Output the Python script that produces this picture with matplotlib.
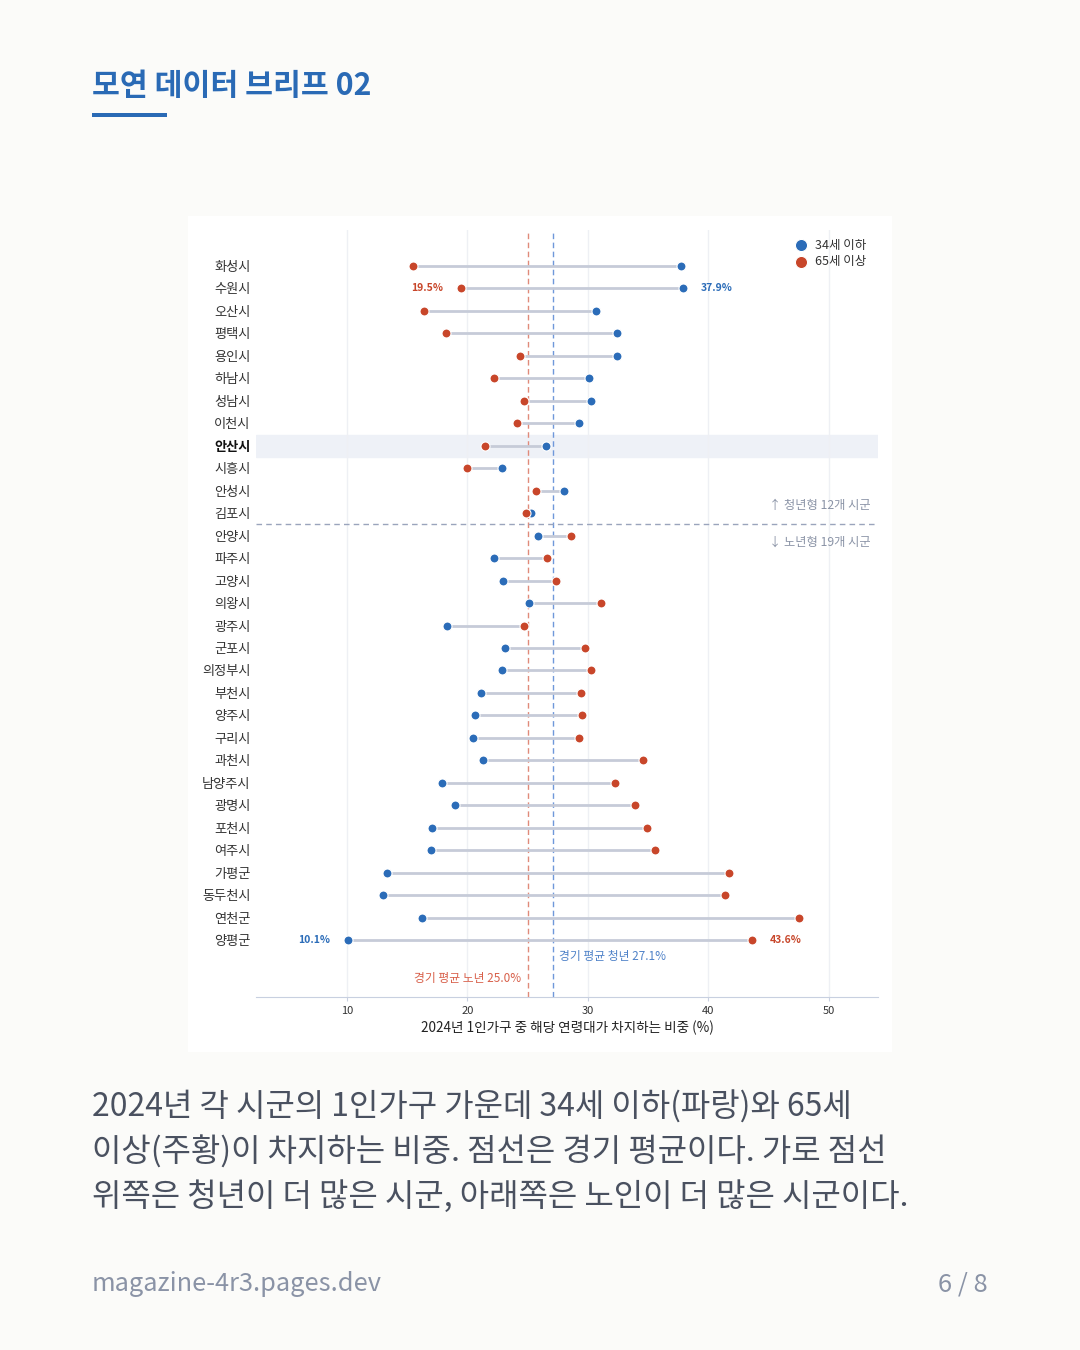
import matplotlib
import numpy as np
from matplotlib import pyplot as plt
from matplotlib.patches import Rectangle

matplotlib.use('Agg')

plt.rcParams['font.family'] = ['Noto Sans CJK KR', 'DejaVu Sans']

# data
regions = ['화성시', '수원시', '오산시', '평택시', '용인시', '하남시', '성남시', '이천시',
           '안산시', '시흥시', '안성시', '김포시', '안양시', '파주시', '고양시', '의왕시',
           '광주시', '군포시', '의정부시', '부천시', '양주시', '구리시', '과천시', '남양주시',
           '광명시', '포천시', '여주시', '가평군', '동두천시', '연천군', '양평군']
young = [37.7, 37.9, 30.7, 32.4, 32.4, 30.1, 30.3, 29.3,
         26.5, 22.9, 28.0, 25.3, 25.9, 22.2, 23.0, 25.1,
         18.3, 23.1, 22.9, 21.1, 20.6, 20.5, 21.3, 17.9,
         19.0, 17.1, 17.0, 13.3, 13.0, 16.2, 10.1]
old = [15.5, 19.5, 16.4, 18.2, 24.4, 22.2, 24.7, 24.1,
       21.5, 20.0, 25.7, 24.9, 28.6, 26.6, 27.4, 31.1,
       24.7, 29.8, 30.3, 29.4, 29.5, 29.3, 34.6, 32.3,
       33.9, 34.9, 35.6, 41.7, 41.4, 47.5, 43.6]
mean_young = 27.1
mean_old = 25.0
n_young_type = 12
highlight = '안산시'
xticks = [10, 20, 30, 40, 50]

BLUE = '#2b6cb8'
RED = '#c8462a'
GRAY = '#8a93a6'

fig = plt.figure(figsize=(10.8, 13.5), dpi=100)
fig.patch.set_facecolor('#fbfbf9')

# white chart panel, drawn as a background axes
panel = fig.add_axes([188 / 1080, 1 - 1052 / 1350, 704 / 1080, 836 / 1350], zorder=-5)
panel.set_facecolor('white')
panel.axis('off')
panel.add_patch(Rectangle((0, 0), 1, 1, transform=panel.transAxes, facecolor='white', edgecolor='none'))

# title and underline
fig.text(92 / 1080, 1 - 86 / 1350, '모연 데이터 브리프 02', fontsize=21.8, fontweight='bold',
         color='#2a6ab5', va='center', ha='left')
fig.patches.append(Rectangle((92 / 1080, 1 - 117 / 1350), 75 / 1080, 4 / 1350,
                             transform=fig.transFigure, facecolor='#2a6ab5', edgecolor='none'))

ax = fig.add_axes([256 / 1080, 1 - 997 / 1350, 622 / 1080, 767 / 1350])
ax.set_facecolor('none')
y = np.arange(len(regions))

# highlighted row
hi = regions.index(highlight)
ax.axhspan(hi - 0.5, hi + 0.5, color='#eef1f7', zorder=0)

for xv in xticks:
    ax.axvline(xv, color='#eef0f4', lw=1, zorder=0.5)

ax.hlines(y, young, old, color='#c6cbd8', lw=2, zorder=2)
ax.scatter(young, y, s=42, color=BLUE, edgecolor='white', linewidth=0.8, zorder=3, label='34세 이하')
ax.scatter(old, y, s=42, color=RED, edgecolor='white', linewidth=0.8, zorder=3, label='65세 이상')

ax.axvline(mean_old, color='#e08a7a', lw=1, ls=(0, (4, 2.5)), zorder=1)
ax.axvline(mean_young, color='#6f98da', lw=1, ls=(0, (4, 2.5)), zorder=1)

ax.axhline(n_young_type - 0.5, color='#9aa4bc', lw=1, ls=(0, (4, 3)), zorder=1)

ax.set_xlim(2.45, 54.1)
ax.set_ylim(32.53, -1.6)
ax.set_yticks(y)
ax.set_yticklabels(regions, fontsize=9.5, color='#333333')
for lab in ax.get_yticklabels():
    if lab.get_text() == highlight:
        lab.set_fontweight('bold')
        lab.set_color('#111111')
ax.tick_params(axis='y', length=0, pad=4)
ax.set_xticks(xticks)
ax.tick_params(axis='x', labelsize=8, colors='#333333', length=3, width=0.8)
ax.tick_params(axis='x', color='#c8d0e0')
for side in ['top', 'right', 'left']:
    ax.spines[side].set_visible(False)
ax.spines['bottom'].set_color('#c8d0e0')
ax.set_xlabel('2024년 1인가구 중 해당 연령대가 차지하는 비중 (%)', fontsize=9.8, color='#222222', labelpad=3)

# value labels on first and last rows
first, last = 1, len(regions) - 1
ax.annotate(f'{old[first]:.1f}%', (old[first], first), xytext=(-13, 0), textcoords='offset points',
            ha='right', va='center', fontsize=7.5, fontweight='bold', color=RED)
ax.annotate(f'{young[first]:.1f}%', (young[first], first), xytext=(13, 0), textcoords='offset points',
            ha='left', va='center', fontsize=7.5, fontweight='bold', color=BLUE)
ax.annotate(f'{young[last]:.1f}%', (young[last], last), xytext=(-13, 0), textcoords='offset points',
            ha='right', va='center', fontsize=7.5, fontweight='bold', color=BLUE)
ax.annotate(f'{old[last]:.1f}%', (old[last], last), xytext=(13, 0), textcoords='offset points',
            ha='left', va='center', fontsize=7.5, fontweight='bold', color=RED)

# mean labels
ax.text(mean_young + 0.5, last + 0.72, f'경기 평균 청년 {mean_young:.1f}%', fontsize=8.5,
        color='#4f82c8', ha='left', va='center')
ax.text(mean_old - 0.5, last + 1.7, f'경기 평균 노년 {mean_old:.1f}%', fontsize=8.5,
        color='#d8604a', ha='right', va='center')

# group labels around separator
ax.text(53.5, n_young_type - 0.5 - 0.85, f'↑ 청년형 {n_young_type}개 시군', fontsize=8.8,
        color=GRAY, ha='right', va='center')
ax.text(53.5, n_young_type - 0.5 + 0.8, f'↓ 노년형 {len(regions) - n_young_type}개 시군', fontsize=8.8,
        color=GRAY, ha='right', va='center')

leg = ax.legend(loc='upper right', bbox_to_anchor=(0.995, 1.0), frameon=False, fontsize=9,
                handletextpad=0.1, labelspacing=0.25, borderaxespad=0.3, markerscale=1.35)
for t in leg.get_texts():
    t.set_color('#333333')

# caption
caption = ['2024년 각 시군의 1인가구 가운데 34세 이하(파랑)와 65세',
           '이상(주황)이 차지하는 비중. 점선은 경기 평균이다. 가로 점선',
           '위쪽은 청년이 더 많은 시군, 아래쪽은 노인이 더 많은 시군이다.']
for i, line in enumerate(caption):
    fig.text(92 / 1080, 1 - (1107 + 45 * i) / 1350, line, fontsize=23, color='#4a5160',
             ha='left', va='center', fontweight='light')

fig.text(92 / 1080, 1 - 1284 / 1350, 'magazine-4r3.pages.dev', fontsize=18.3, color=GRAY,
         ha='left', va='center')
fig.text(988 / 1080, 1 - 1284 / 1350, '6 / 8', fontsize=18.3, color=GRAY, ha='right', va='center')

fig.savefig('out.png', dpi=100, facecolor=fig.get_facecolor())
